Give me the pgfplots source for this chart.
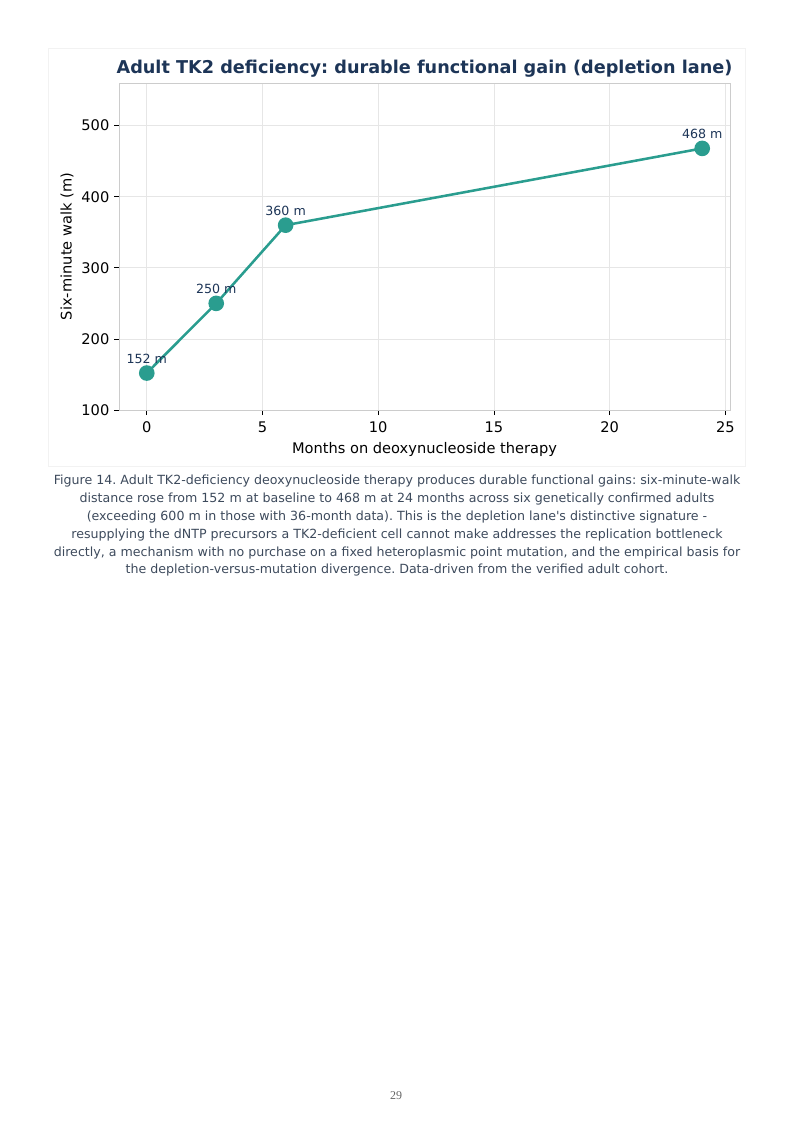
\documentclass[border=0pt]{standalone}
\usepackage{fontspec}
\setmainfont{DejaVu Sans}
\newfontfamily\pagefont{Liberation Serif}
\usepackage{pgfplots}
\pgfplotsset{compat=1.18}
\frenchspacing

\definecolor{teal}{HTML}{2A9D8F}
\definecolor{navy}{HTML}{1D3557}
\definecolor{capgrey}{HTML}{3D4A5C}
\definecolor{gridgrey}{HTML}{E6E6E6}
\definecolor{spinegrey}{HTML}{CCCCCC}

\begin{document}
\frenchspacing
\begin{tikzpicture}
% page, 794 x 1123 px at 0.75 bp per px
\path (0,0) rectangle (595.5bp,-842.25bp);
% faint figure frame
\draw[draw=black!5, line width=0.6bp] (36bp,-36bp) rectangle (559bp,-350bp);

\begin{axis}[
    at={(89.25bp,-307.5bp)}, anchor=south west,
    scale only axis,
    width=458.25bp, height=245.25bp,
    xmin=-1.2, xmax=25.2,
    ymin=100, ymax=560,
    xtick={0,5,10,15,20,25},
    ytick={100,200,300,400,500},
    axis line style={spinegrey, line width=0.6bp},
    tick style={black, line width=0.6bp},
    tick align=outside,
    major tick length=3.75bp,
    xtick pos=bottom, ytick pos=left,
    grid=major,
    major grid style={gridgrey, line width=0.6bp},
    tick label style={font=\fontsize{11}{12}\selectfont, text=black},
    xticklabel style={yshift=-1.5bp},
    /pgf/number format/assume math mode=true,
    xlabel={Months on deoxynucleoside therapy},
    ylabel={Six-minute walk (m)},
    label style={font=\fontsize{11}{12}\selectfont},
    xlabel style={yshift=-0.5bp},
    ylabel style={yshift=-1bp},
    title={Adult TK2 deficiency: durable functional gain (depletion lane)},
    title style={font=\fontsize{13.3}{15}\selectfont\bfseries, text=navy, yshift=-5.5bp},
    clip=false,
]
\addplot[teal, line width=1.9bp, mark=*, mark size=4.9bp,
    mark options={fill=teal, draw=teal},
    nodes near coords={\pgfmathprintnumber{\pgfplotspointmeta}~m},
    point meta=explicit,
    every node near coord/.append style={font=\fontsize{9.5}{10}\selectfont, text=navy, yshift=3bp},
] coordinates {
    (0,152) [152]
    (3,250) [250]
    (6,360) [360]
    (24,468) [468]
};
\end{axis}

\node[anchor=north, align=center, text=capgrey,
      font=\fontsize{9.5}{13.5}\selectfont] at (297.75bp,-352.5bp) {%
Figure 14. Adult TK2-deficiency deoxynucleoside therapy produces durable functional gains: six-minute-walk\\
distance rose from 152 m at baseline to 468 m at 24 months across six genetically confirmed adults\\
(exceeding 600 m in those with 36-month data). This is the depletion lane\textquotesingle s distinctive signature -\\
resupplying the dNTP precursors a TK2-deficient cell cannot make addresses the replication bottleneck\\
directly, a mechanism with no purchase on a fixed heteroplasmic point mutation, and the empirical basis for\\
the depletion-versus-mutation divergence. Data-driven from the verified adult cohort.};

\node[text=black!60, font=\pagefont\fontsize{9}{10}\selectfont] at (297bp,-822bp) {29};
\end{tikzpicture}
\end{document}
